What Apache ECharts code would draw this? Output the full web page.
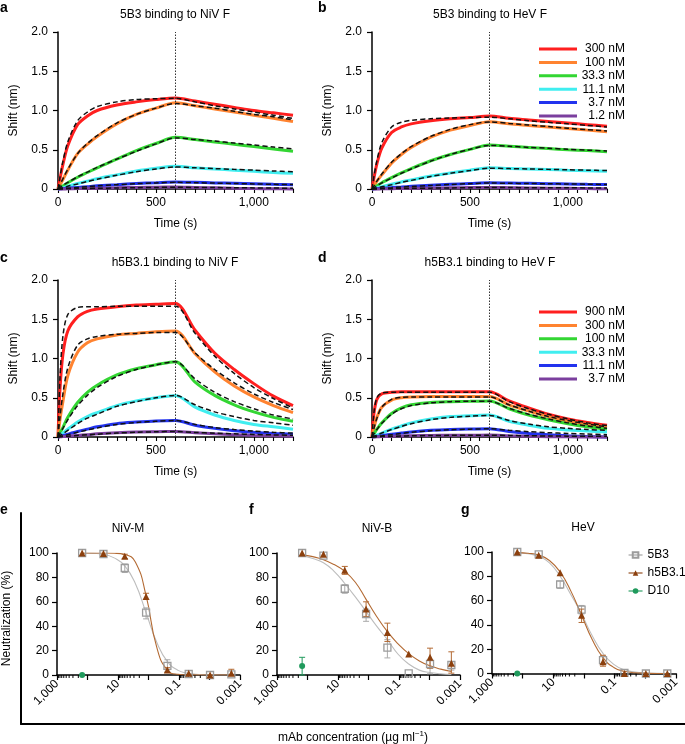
<!DOCTYPE html>
<html>
<head>
<meta charset="utf-8">
<script src="https://cdn.jsdelivr.net/npm/echarts@6/dist/echarts.min.js"></script>
<style>
  html, body { margin: 0; padding: 0; background: #fff; }
  #chart { width: 685px; height: 744px; }
</style>
</head>
<body>
<div id="chart"></div>
<script>
// ---- binding kinetics (a-d) ----
const TIME = [0, 10, 25, 50, 100, 150, 200, 300, 400, 500, 600, 700, 800, 900, 1000, 1100, 1200];

const CONC_5B3 = ['300 nM', '100 nM', '33.3 nM', '11.1 nM', '3.7 nM', '1.2 nM'];
const CONC_H5B3 = ['900 nM', '300 nM', '100 nM', '33.3 nM', '11.1 nM', '3.7 nM'];
const TRACE_COLORS = ['#ff1f1f', '#ff8330', '#33d633', '#40eef0', '#2233ee', '#7b3f9e'];

// a: 5B3 binding to NiV F
const A_DATA = [
  [0, 0.13, 0.31, 0.55, 0.82, 0.93, 1.00, 1.07, 1.11, 1.14, 1.16, 1.12, 1.08, 1.04, 1.00, 0.97, 0.94],
  [0, 0.05, 0.12, 0.24, 0.45, 0.57, 0.67, 0.83, 0.95, 1.03, 1.10, 1.06, 1.02, 0.98, 0.94, 0.90, 0.86],
  [0, 0.015, 0.04, 0.08, 0.15, 0.21, 0.27, 0.38, 0.49, 0.58, 0.66, 0.63, 0.60, 0.57, 0.54, 0.51, 0.48],
  [0, 0.005, 0.015, 0.035, 0.07, 0.10, 0.13, 0.18, 0.23, 0.265, 0.29, 0.27, 0.255, 0.24, 0.225, 0.21, 0.20],
  [0, 0.002, 0.005, 0.01, 0.02, 0.03, 0.04, 0.055, 0.07, 0.08, 0.09, 0.085, 0.078, 0.072, 0.066, 0.06, 0.055],
  [0, 0, 0.001, 0.002, 0.005, 0.008, 0.01, 0.015, 0.02, 0.023, 0.025, 0.02, 0.015, 0.01, 0.006, 0.003, 0]
];
const A_FIT = [
  [0, 0.15, 0.35, 0.60, 0.87, 0.98, 1.05, 1.11, 1.14, 1.15, 1.155, 1.11, 1.06, 1.02, 0.98, 0.94, 0.90],
  [0, 0.05, 0.13, 0.25, 0.45, 0.58, 0.68, 0.84, 0.95, 1.03, 1.09, 1.06, 1.03, 0.99, 0.95, 0.92, 0.88],
  [0, 0.02, 0.045, 0.085, 0.155, 0.215, 0.275, 0.38, 0.48, 0.575, 0.65, 0.63, 0.61, 0.585, 0.56, 0.535, 0.51],
  [0, 0.006, 0.016, 0.035, 0.065, 0.095, 0.125, 0.175, 0.22, 0.255, 0.28, 0.27, 0.26, 0.25, 0.24, 0.23, 0.22],
  [0, 0.002, 0.005, 0.01, 0.02, 0.03, 0.04, 0.055, 0.068, 0.078, 0.085, 0.08, 0.075, 0.07, 0.065, 0.06, 0.056],
  [0, 0, 0.001, 0.002, 0.005, 0.007, 0.009, 0.013, 0.017, 0.02, 0.022, 0.02, 0.018, 0.016, 0.014, 0.012, 0.01]
];

// b: 5B3 binding to HeV F
const B_DATA = [
  [0, 0.14, 0.32, 0.52, 0.72, 0.79, 0.83, 0.87, 0.895, 0.91, 0.93, 0.90, 0.88, 0.86, 0.84, 0.82, 0.80],
  [0, 0.04, 0.10, 0.18, 0.33, 0.44, 0.53, 0.66, 0.75, 0.81, 0.857, 0.83, 0.81, 0.79, 0.77, 0.75, 0.73],
  [0, 0.015, 0.04, 0.08, 0.145, 0.205, 0.26, 0.36, 0.44, 0.505, 0.56, 0.545, 0.53, 0.515, 0.50, 0.49, 0.475],
  [0, 0.006, 0.015, 0.03, 0.06, 0.09, 0.115, 0.165, 0.205, 0.24, 0.27, 0.262, 0.255, 0.248, 0.24, 0.233, 0.225],
  [0, 0.002, 0.005, 0.01, 0.018, 0.026, 0.034, 0.048, 0.06, 0.07, 0.08, 0.076, 0.072, 0.068, 0.064, 0.06, 0.057],
  [0, 0, 0.001, 0.002, 0.004, 0.006, 0.008, 0.012, 0.015, 0.018, 0.02, 0.017, 0.014, 0.011, 0.008, 0.005, 0.003]
];
const B_FIT = [
  [0, 0.16, 0.36, 0.59, 0.79, 0.85, 0.875, 0.895, 0.905, 0.91, 0.915, 0.895, 0.87, 0.85, 0.83, 0.81, 0.79],
  [0, 0.04, 0.10, 0.19, 0.34, 0.45, 0.54, 0.67, 0.76, 0.82, 0.855, 0.835, 0.815, 0.795, 0.775, 0.755, 0.74],
  [0, 0.016, 0.04, 0.078, 0.14, 0.20, 0.255, 0.355, 0.44, 0.505, 0.555, 0.545, 0.53, 0.52, 0.505, 0.495, 0.485],
  [0, 0.005, 0.013, 0.028, 0.055, 0.085, 0.11, 0.16, 0.20, 0.235, 0.265, 0.26, 0.255, 0.25, 0.245, 0.24, 0.235],
  [0, 0.002, 0.004, 0.009, 0.017, 0.025, 0.032, 0.046, 0.058, 0.068, 0.076, 0.073, 0.07, 0.067, 0.064, 0.061, 0.058],
  [0, 0, 0.001, 0.002, 0.004, 0.006, 0.008, 0.011, 0.014, 0.017, 0.019, 0.018, 0.017, 0.016, 0.015, 0.014, 0.013]
];

// c: h5B3.1 binding to NiV F
const C_DATA = [
  [0, 0.60, 1.05, 1.35, 1.53, 1.60, 1.63, 1.66, 1.68, 1.69, 1.70, 1.36, 1.07, 0.86, 0.68, 0.52, 0.40],
  [0, 0.22, 0.45, 0.78, 1.08, 1.20, 1.25, 1.30, 1.32, 1.34, 1.35, 1.06, 0.83, 0.65, 0.51, 0.40, 0.31],
  [0, 0.05, 0.12, 0.25, 0.44, 0.57, 0.66, 0.79, 0.87, 0.92, 0.96, 0.70, 0.53, 0.41, 0.32, 0.25, 0.20],
  [0, 0.02, 0.05, 0.10, 0.19, 0.26, 0.31, 0.40, 0.46, 0.50, 0.53, 0.38, 0.28, 0.21, 0.16, 0.13, 0.10],
  [0, 0.007, 0.018, 0.036, 0.07, 0.10, 0.13, 0.17, 0.19, 0.205, 0.21, 0.15, 0.11, 0.08, 0.06, 0.045, 0.035],
  [0, 0.002, 0.005, 0.01, 0.02, 0.03, 0.04, 0.055, 0.065, 0.068, 0.07, 0.055, 0.04, 0.03, 0.02, 0.015, 0.01]
];
const C_FIT = [
  [0, 0.75, 1.28, 1.56, 1.65, 1.66, 1.66, 1.665, 1.665, 1.665, 1.665, 1.32, 1.03, 0.81, 0.63, 0.49, 0.37],
  [0, 0.25, 0.55, 0.88, 1.17, 1.25, 1.28, 1.31, 1.32, 1.33, 1.33, 1.07, 0.86, 0.69, 0.55, 0.44, 0.35],
  [0, 0.045, 0.11, 0.22, 0.40, 0.53, 0.63, 0.77, 0.86, 0.92, 0.96, 0.74, 0.57, 0.45, 0.36, 0.28, 0.23],
  [0, 0.017, 0.042, 0.085, 0.17, 0.24, 0.29, 0.39, 0.45, 0.50, 0.53, 0.41, 0.32, 0.26, 0.21, 0.18, 0.15],
  [0, 0.006, 0.015, 0.03, 0.06, 0.09, 0.115, 0.16, 0.185, 0.20, 0.21, 0.16, 0.12, 0.095, 0.075, 0.06, 0.05],
  [0, 0.002, 0.005, 0.01, 0.02, 0.028, 0.036, 0.05, 0.06, 0.066, 0.07, 0.058, 0.048, 0.04, 0.033, 0.027, 0.022]
];

// d: h5B3.1 binding to HeV F
const D_DATA = [
  [0, 0.30, 0.48, 0.55, 0.57, 0.575, 0.575, 0.575, 0.575, 0.575, 0.575, 0.46, 0.37, 0.29, 0.23, 0.185, 0.15],
  [0, 0.12, 0.25, 0.38, 0.47, 0.50, 0.51, 0.515, 0.515, 0.515, 0.515, 0.41, 0.33, 0.26, 0.20, 0.16, 0.125],
  [0, 0.04, 0.10, 0.18, 0.30, 0.37, 0.41, 0.44, 0.45, 0.455, 0.46, 0.36, 0.28, 0.22, 0.17, 0.13, 0.10],
  [0, 0.01, 0.025, 0.05, 0.10, 0.14, 0.18, 0.23, 0.26, 0.27, 0.28, 0.20, 0.15, 0.11, 0.09, 0.075, 0.065],
  [0, 0.003, 0.008, 0.016, 0.035, 0.05, 0.065, 0.085, 0.097, 0.103, 0.106, 0.07, 0.045, 0.03, 0.015, 0.005, 0],
  [0, 0.001, 0.002, 0.005, 0.01, 0.013, 0.016, 0.02, 0.022, 0.023, 0.024, 0.015, 0.008, 0.004, 0.002, 0.001, 0]
];
const D_FIT = [
  [0, 0.31, 0.50, 0.56, 0.57, 0.57, 0.57, 0.57, 0.57, 0.57, 0.57, 0.45, 0.36, 0.29, 0.23, 0.18, 0.145],
  [0, 0.11, 0.24, 0.38, 0.48, 0.505, 0.51, 0.51, 0.51, 0.51, 0.51, 0.41, 0.33, 0.26, 0.21, 0.165, 0.13],
  [0, 0.04, 0.095, 0.175, 0.29, 0.36, 0.40, 0.435, 0.45, 0.455, 0.455, 0.365, 0.29, 0.23, 0.18, 0.14, 0.11],
  [0, 0.01, 0.025, 0.05, 0.095, 0.135, 0.17, 0.22, 0.25, 0.265, 0.275, 0.21, 0.165, 0.13, 0.11, 0.095, 0.085],
  [0, 0.003, 0.008, 0.015, 0.03, 0.045, 0.06, 0.08, 0.092, 0.10, 0.105, 0.085, 0.068, 0.055, 0.045, 0.037, 0.03],
  [0, 0.001, 0.002, 0.005, 0.009, 0.012, 0.015, 0.019, 0.021, 0.022, 0.023, 0.019, 0.016, 0.013, 0.011, 0.009, 0.008]
];

// ---- neutralization (e-g) ----
const CONC = [150, 30, 6, 1.2, 0.24, 0.048, 0.0096, 0.00192];
const CONC_FIT = [150, 67, 30, 13.4, 6, 2.7, 1.2, 0.54, 0.24, 0.107, 0.048, 0.0215, 0.0096, 0.0043, 0.00192];
const LOG_TICK_EXP = [3, 1, -1, -3];
const LOG_TICK_LABELS = ['1,000', '10', '0.1', '0.001'];

// e: NiV-M
const E_5B3 = [100, 99.2, 87.7, 51.2, 7.4, 0.8, 0, 0.5];
const E_H5B3 = [100, 99.5, 97.3, 64.4, 4.1, 1.4, 0, 1.4];
const E_D10 = [0];
const E_5B3_ERR = [[6, 84, 91], [1.2, 46, 55], [0.24, 3, 12.5]];
const E_H5B3_ERR = [[6, 95.5, 99], [1.2, 62, 67], [0.24, 2, 6], [0.00192, 0, 4.7]];
const E_D10_ERR = [];
const E_5B3_FIT = [100, 99.7, 99, 96, 89.5, 75, 51, 27, 11, 3.8, 1.3, 0.4, 0.1, 0, 0];
const E_H5B3_FIT = [100, 100, 100, 99.8, 98.8, 92.7, 65, 23, 4.0, 0.6, 0.1, 0, 0, 0, 0];

// f: NiV-B
const F_5B3 = [100, 97.8, 70.7, 50, 22.5, 1.4, 9, 8.2];
const F_H5B3 = [100, 98.9, 85.8, 54, 34.8, 17.3, 14.5, 9.6];
const F_D10 = [7.4];
const F_5B3_ERR = [[6, 67, 74], [1.2, 44, 54], [0.24, 14, 29], [0.0096, 1, 12], [0.00192, 4, 11]];
const F_H5B3_ERR = [[6, 82.5, 89], [1.2, 48, 60], [0.24, 27.5, 42.5], [0.0096, 5.5, 22], [0.00192, 1.5, 19]];
const F_D10_ERR = [[150, 0, 14.5]];
const F_5B3_FIT = [98, 95.5, 92, 85, 75, 64, 52, 40, 29, 17, 9, 4, 2, 1, 0.5];
const F_H5B3_FIT = [98.5, 97, 94.5, 90.5, 85, 76, 62, 48, 35.5, 25.5, 17.5, 11.5, 7.5, 4.8, 3];

// g: HeV
const G_5B3 = [100, 98, 73.4, 52.6, 11, 0.5, 0, 0];
const G_H5B3 = [100, 97.3, 83, 47.9, 9.6, 0, 0, 0];
const G_D10 = [0];
const G_5B3_ERR = [[6, 70, 76], [1.2, 49, 56], [0.24, 8, 14]];
const G_H5B3_ERR = [[1.2, 42, 53], [0.24, 6, 15]];
const G_D10_ERR = [];
const G_5B3_FIT = [99.5, 98.5, 96.5, 91, 80, 65, 49, 31, 16.5, 7.5, 3, 1.2, 0.4, 0.1, 0];
const G_H5B3_FIT = [99.5, 99, 97.5, 93, 83.5, 68, 48, 28, 13, 5, 1.8, 0.6, 0.2, 0, 0];

const GRAY = '#9c9c9c';
const GRAY_FIT = '#bdbdbd';
const BROWN = '#8c400e';
const BROWN_FIT = '#b36a33';
const GREEN = '#1f9a5c';
const FONT = 'Liberation Sans, Arial, Helvetica, sans-serif';

const chart = echarts.init(document.getElementById('chart'));

const pair = (xs, ys) => ys.map((y, i) => [xs[i], y]);

// 0-3 kinetics, 4-6 neutralization, 7 outer frame of e-g
const grids = [
  { left: 58, top: 32, width: 235, height: 157 },
  { left: 372, top: 32, width: 235, height: 157 },
  { left: 58, top: 280, width: 235, height: 157 },
  { left: 372, top: 280, width: 235, height: 157 },
  { left: 57, top: 553, width: 183, height: 122 },
  { left: 277, top: 553, width: 183, height: 122 },
  { left: 492, top: 552, width: 184, height: 121.5 },
  { left: 21, top: 513, width: 664, height: 211 }
].map(g => Object.assign({ containLabel: false, outerBoundsMode: 'none' }, g));

const axisFont = { color: '#000', fontSize: 12, fontFamily: FONT };
const xAxes = [];
const yAxes = [];

for (let i = 0; i < 4; i++) {
  xAxes.push({
    type: 'value', gridIndex: i, min: 0, max: 1200, interval: 50,
    axisLine: { onZero: false, lineStyle: { color: '#000', width: 1.5 } },
    axisTick: { length: 4, lineStyle: { color: '#000', width: 1.1 } },
    axisLabel: Object.assign({ margin: 8, formatter: v => (v % 500 === 0 ? v.toLocaleString('en-US') : '') }, axisFont),
    splitLine: { show: false },
    name: 'Time (s)', nameLocation: 'middle', nameGap: 29, nameTextStyle: axisFont
  });
  yAxes.push({
    type: 'value', gridIndex: i, min: 0, max: 2, interval: 0.5,
    axisLine: { lineStyle: { color: '#000', width: 1.5 } },
    axisTick: { length: 5, lineStyle: { color: '#000', width: 1.2 } },
    axisLabel: Object.assign({ margin: 10, formatter: v => (v === 0 ? '0' : v.toFixed(1)) }, axisFont),
    splitLine: { show: false },
    name: 'Shift (nm)', nameLocation: 'middle', nameGap: 38, nameTextStyle: axisFont
  });
}

for (let i = 4; i < 7; i++) {
  xAxes.push({
    type: 'log', logBase: 10, gridIndex: i, min: 0.001, max: 1000, inverse: true,
    axisLine: { onZero: false, lineStyle: { color: '#000', width: 1.5 } },
    axisTick: { length: 5, lineStyle: { color: '#000', width: 1.2 } },
    axisLabel: Object.assign({
      rotate: 45, margin: 7,
      formatter: v => {
        const k = LOG_TICK_EXP.indexOf(Math.round(Math.log10(v)));
        return k >= 0 ? LOG_TICK_LABELS[k] : '';
      }
    }, axisFont),
    splitLine: { show: false }
  });
  yAxes.push({
    type: 'value', gridIndex: i, min: 0, max: 100, interval: 20,
    axisLine: { lineStyle: { color: '#000', width: 1.5 } },
    axisTick: { length: 5, lineStyle: { color: '#000', width: 1.2 } },
    axisLabel: Object.assign({ margin: 8 }, axisFont),
    splitLine: { show: false }
  });
}

// outer L-frame with shared axis titles
xAxes.push({
  type: 'value', gridIndex: 7, min: 0, max: 1,
  axisLine: { lineStyle: { color: '#000', width: 2 } },
  axisTick: { show: false }, axisLabel: { show: false }, splitLine: { show: false },
  name: 'mAb concentration (µg ml{sup|−1})', nameLocation: 'middle', nameGap: 6,
  nameTextStyle: Object.assign({ rich: { sup: { fontSize: 8, fontFamily: FONT, color: '#000', padding: [0, 0, 7, 0] } } }, axisFont)
});
yAxes.push({
  type: 'value', gridIndex: 7, min: 0, max: 1,
  axisLine: { lineStyle: { color: '#000', width: 2 } },
  axisTick: { show: false }, axisLabel: { show: false }, splitLine: { show: false },
  name: 'Neutralization (%)', nameLocation: 'middle', nameGap: 8, nameTextStyle: axisFont
});

const series = [];

function addKinetics(idx, prefix, names, data, fit) {
  names.forEach((n, i) => {
    series.push({
      name: prefix + n, type: 'line', xAxisIndex: idx, yAxisIndex: idx,
      data: pair(TIME, data[i]), symbol: 'none', smooth: 0.3, clip: false, z: 2,
      lineStyle: { color: TRACE_COLORS[i], width: 3 }, itemStyle: { color: TRACE_COLORS[i] }
    });
  });
  fit.forEach((f, i) => {
    const s = {
      name: prefix + 'fit' + i, type: 'line', xAxisIndex: idx, yAxisIndex: idx,
      data: pair(TIME, f), symbol: 'none', smooth: 0.3, clip: false, z: 3,
      lineStyle: { color: '#111', width: 1.5, type: [5, 3] }, itemStyle: { color: '#111' }
    };
    if (i === 0) {
      // end of association phase
      s.markLine = {
        silent: true, symbol: 'none', label: { show: false }, animation: false,
        lineStyle: { color: '#333', width: 1, type: [1.5, 1.5] },
        data: [{ xAxis: 600 }]
      };
    }
    series.push(s);
  });
}

addKinetics(0, 'a:', CONC_5B3, A_DATA, A_FIT);
addKinetics(1, 'b:', CONC_5B3, B_DATA, B_FIT);
addKinetics(2, 'c:', CONC_H5B3, C_DATA, C_FIT);
addKinetics(3, 'd:', CONC_H5B3, D_DATA, D_FIT);

function errBars(idx, name, color, rows) {
  return {
    name: name, type: 'custom', xAxisIndex: idx, yAxisIndex: idx, z: 3,
    itemStyle: { color: color }, data: rows,
    renderItem: (params, api) => {
      const lo = api.coord([api.value(0), api.value(1)]);
      const hi = api.coord([api.value(0), api.value(2)]);
      const w = 3;
      const st = { stroke: color, lineWidth: 1 };
      return {
        type: 'group', children: [
          { type: 'line', shape: { x1: lo[0], y1: lo[1], x2: hi[0], y2: hi[1] }, style: st },
          { type: 'line', shape: { x1: lo[0] - w, y1: lo[1], x2: lo[0] + w, y2: lo[1] }, style: st },
          { type: 'line', shape: { x1: hi[0] - w, y1: hi[1], x2: hi[0] + w, y2: hi[1] }, style: st }
        ]
      };
    }
  };
}

// log-spaced minor ticks below the labelled decades
const MINOR_TICKS = [];
[100, 1, 0.01].forEach(d => { for (let m = 2; m <= 9; m++) MINOR_TICKS.push([m * d, 0]); });

function addNeutralization(idx, prefix, d5, dh, dd, e5, eh, ed, f5, fh) {
  series.push({
    name: prefix + 'ticks', type: 'custom', xAxisIndex: idx, yAxisIndex: idx, silent: true,
    data: MINOR_TICKS,
    renderItem: (params, api) => {
      const p = api.coord([api.value(0), 0]);
      return { type: 'line', shape: { x1: p[0], y1: p[1], x2: p[0], y2: p[1] + 3 }, style: { stroke: '#000', lineWidth: 1 } };
    }
  });
  series.push({
    name: prefix + 'fit 5B3', type: 'line', xAxisIndex: idx, yAxisIndex: idx, smooth: true,
    data: pair(CONC_FIT, f5), symbol: 'none', z: 2, lineStyle: { color: GRAY_FIT, width: 1.1 }
  });
  series.push({
    name: prefix + 'fit h5B3.1', type: 'line', xAxisIndex: idx, yAxisIndex: idx, smooth: true,
    data: pair(CONC_FIT, fh), symbol: 'none', z: 2, lineStyle: { color: BROWN_FIT, width: 1.1 }
  });
  series.push(errBars(idx, prefix + 'err 5B3', '#aaaaaa', e5));
  series.push(errBars(idx, prefix + 'err h5B3.1', BROWN_FIT, eh));
  series.push(errBars(idx, prefix + 'err D10', GREEN, ed));
  const pts = (name, vals, symbol, size, style) => ({
    name: name, type: 'line', xAxisIndex: idx, yAxisIndex: idx, z: 4,
    data: pair(CONC, vals), symbol: symbol, symbolSize: size, showSymbol: true,
    lineStyle: { color: style.borderColor || style.color, width: 1, opacity: 0 },
    itemStyle: style
  });
  series.push(pts(prefix + '5B3', d5, 'rect', 7, { color: 'rgba(255,255,255,0)', borderColor: GRAY, borderWidth: 1.3 }));
  series.push(pts(prefix + 'h5B3.1', dh, 'triangle', 7, { color: BROWN }));
  series.push(pts(prefix + 'D10', dd, 'circle', 6, { color: GREEN }));
}

addNeutralization(4, 'e:', E_5B3, E_H5B3, E_D10, E_5B3_ERR, E_H5B3_ERR, E_D10_ERR, E_5B3_FIT, E_H5B3_FIT);
addNeutralization(5, 'f:', F_5B3, F_H5B3, F_D10, F_5B3_ERR, F_H5B3_ERR, F_D10_ERR, F_5B3_FIT, F_H5B3_FIT);
addNeutralization(6, 'g:', G_5B3, G_H5B3, G_D10, G_5B3_ERR, G_H5B3_ERR, G_D10_ERR, G_5B3_FIT, G_H5B3_FIT);

const stripPrefix = n => n.slice(n.indexOf(':') + 1);
const concLegend = (prefix, names, top) => ({
  orient: 'vertical', left: 539, top: top, padding: 0,
  icon: 'rect', itemWidth: 38, itemHeight: 3, itemGap: 1.4,
  selectedMode: false,
  data: names.map(n => prefix + n),
  formatter: n => '{n|' + stripPrefix(n) + '}',
  textStyle: { color: '#000', fontSize: 12, fontFamily: FONT,
    rich: { n: { width: 43, align: 'right', fontSize: 12, lineHeight: 12, fontFamily: FONT, color: '#000' } } }
});

const titleStyle = { color: '#000', fontSize: 12, fontWeight: 'normal', fontFamily: FONT };
const letterStyle = { color: '#000', fontSize: 14, fontWeight: 'bold', fontFamily: FONT };
const title = (text, x, y, style, align) => ({
  text: text, left: x, top: y, padding: 0, textAlign: align || 'left', textStyle: style
});

chart.setOption({
  animation: false,
  backgroundColor: '#fff',
  textStyle: { fontFamily: FONT },
  title: [
    title('a', 0, 1, letterStyle), title('b', 318, 1, letterStyle),
    title('c', 0, 251, letterStyle), title('d', 318, 251, letterStyle),
    title('e', 0, 503, letterStyle), title('f', 249, 503, letterStyle), title('g', 461, 503, letterStyle),
    title('5B3 binding to NiV F', 175, 9, titleStyle, 'center'),
    title('5B3 binding to HeV F', 490, 9, titleStyle, 'center'),
    title('h5B3.1 binding to NiV F', 175, 257, titleStyle, 'center'),
    title('h5B3.1 binding to HeV F', 490, 257, titleStyle, 'center'),
    title('NiV-M', 128, 523, titleStyle, 'center'),
    title('NiV-B', 377, 523, titleStyle, 'center'),
    title('HeV', 583, 522, titleStyle, 'center')
  ],
  legend: [
    concLegend('b:', CONC_5B3, 43),
    concLegend('d:', CONC_H5B3, 306),
    {
      orient: 'vertical', left: 628, top: 549, padding: 0, itemWidth: 14, itemHeight: 7, itemGap: 6,
      selectedMode: false,
      data: ['g:5B3', 'g:h5B3.1', 'g:D10'],
      formatter: stripPrefix,
      lineStyle: { opacity: 1, width: 1.1 },
      textStyle: { color: '#000', fontSize: 12, lineHeight: 12, fontFamily: FONT }
    }
  ],
  grid: grids,
  xAxis: xAxes,
  yAxis: yAxes,
  series: series
});
</script>
</body>
</html>
